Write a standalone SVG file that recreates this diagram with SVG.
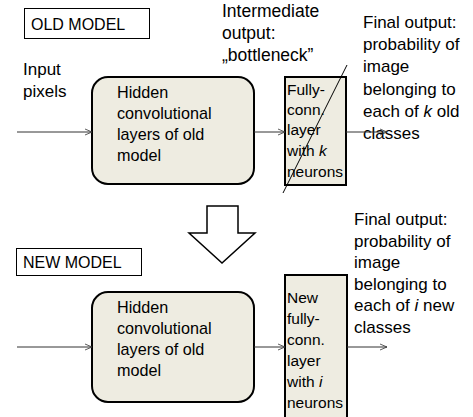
<svg xmlns="http://www.w3.org/2000/svg" width="473" height="417" viewBox="0 0 473 417">
<defs>
<marker id="arr" markerWidth="10" markerHeight="10" refX="8" refY="4" orient="auto" markerUnits="userSpaceOnUse">
<path d="M1,1 L8,4 L1,7" fill="none" stroke="#333" stroke-width="0.8"/>
</marker>
<style>
text{font-family:"Liberation Sans",Arial,sans-serif;font-size:17px;fill:#000}
.s{font-size:15.5px}
.h{font-size:16.2px}
.i{font-size:17.5px}
.lbl{fill:#fff;stroke:#000;stroke-width:1}
.hid{fill:#EEECE1;stroke:#000;stroke-width:2}
.conn{stroke:#333;stroke-width:1;fill:none;marker-end:url(#arr)}
</style>
</defs>
<rect width="473" height="417" fill="#fff"/>
<g id="old-label"><rect class="lbl" x="24.5" y="8.5" width="125" height="30"/><text x="31" y="30" style="font-size:16px">OLD MODEL</text></g>
<g id="input-old"><text x="23" y="75">Input</text><text x="23" y="97">pixels</text></g>
<g id="intermediate"><text class="i" x="222" y="17">Intermediate</text><text class="i" x="222" y="39">output:</text><text class="i" x="222" y="61">„bottleneck”</text></g>
<g id="hidden-old"><rect class="hid" x="92" y="77" width="162" height="107" rx="16"/>
<text class="h" x="117" y="98">Hidden</text><text class="h" x="117" y="119">convolutional</text><text class="h" x="117" y="140">layers of old</text><text class="h" x="117" y="161">model</text></g>
<g id="fc-old"><rect class="hid" x="285" y="77" width="61" height="108"/>
<text class="s" x="287" y="95">Fully-</text><text class="s" x="287" y="115">conn.</text><text class="s" x="287" y="135">layer</text><text class="s" x="287" y="156">with <tspan font-style="italic">k</tspan></text><text class="s" x="287" y="177">neurons</text>
<line x1="347" y1="65" x2="283" y2="193" stroke="#000" stroke-width="1"/></g>
<g id="final-old"><text x="363" y="28">Final output:</text><text x="363" y="50">probability of</text><text x="363" y="72">image</text><text x="363" y="95">belonging to</text><text x="363" y="117">each of <tspan font-style="italic">k</tspan> old</text><text x="363" y="139">classes</text></g>
<g id="transfer-arrow"><path d="M207,206 H238 V233 H255 L222,263 L189,233 H207 Z" fill="#fff" stroke="#000" stroke-width="1.5"/></g>
<g id="new-label"><rect class="lbl" x="16.5" y="248.5" width="125" height="27"/><text x="23" y="268" style="font-size:16px">NEW MODEL</text></g>
<g id="hidden-new"><rect class="hid" x="92" y="292" width="162" height="110" rx="16"/>
<text class="h" x="117" y="313">Hidden</text><text class="h" x="117" y="334">convolutional</text><text class="h" x="117" y="355">layers of old</text><text class="h" x="117" y="376">model</text></g>
<g id="fc-new"><rect class="hid" x="285" y="275" width="62" height="150"/>
<text class="s" x="287" y="303">New</text><text class="s" x="287" y="324">fully-</text><text class="s" x="287" y="345">conn.</text><text class="s" x="287" y="366">layer</text><text class="s" x="287" y="387">with <tspan font-style="italic">i</tspan></text><text class="s" x="287" y="408">neurons</text></g>
<g id="final-new"><text x="354" y="225">Final output:</text><text x="354" y="247">probability of</text><text x="354" y="268">image</text><text x="354" y="290">belonging to</text><text x="354" y="311">each of <tspan font-style="italic">i</tspan> new</text><text x="354" y="333">classes</text></g>
<g id="connectors">
<line class="conn" x1="17" y1="132" x2="92" y2="132"/>
<line class="conn" x1="254" y1="132" x2="285" y2="132"/>
<line class="conn" x1="346" y1="132" x2="387" y2="132"/>
<line class="conn" x1="17" y1="347" x2="92" y2="347"/>
<line class="conn" x1="254" y1="347" x2="285" y2="347"/>
<line class="conn" x1="347" y1="347" x2="387" y2="347"/>
</g>
</svg>
